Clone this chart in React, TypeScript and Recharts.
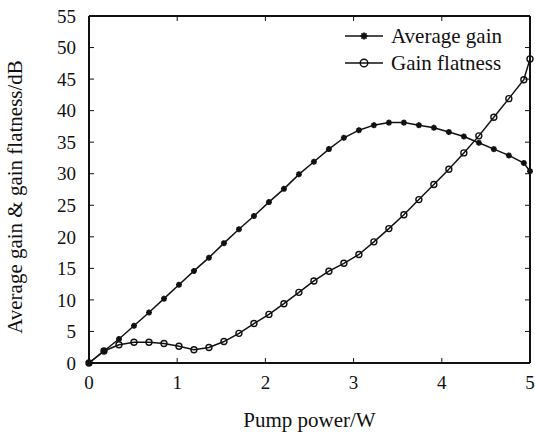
import { ComposedChart, Line, XAxis, YAxis, Legend } from "recharts";

// pump power (W) sampled every 0.17 W, last point at 5 W
const POWER = [0, 0.17, 0.34, 0.51, 0.68, 0.85, 1.02, 1.19, 1.36, 1.53, 1.7, 1.87, 2.04, 2.21, 2.38, 2.55, 2.72, 2.89, 3.06, 3.23, 3.4, 3.57, 3.74, 3.91, 4.08, 4.25, 4.42, 4.59, 4.76, 4.93, 5];
const AVG_GAIN = [0, 1.9, 3.8, 5.9, 8.0, 10.2, 12.4, 14.6, 16.7, 19.0, 21.2, 23.3, 25.5, 27.6, 29.9, 31.9, 33.9, 35.7, 36.9, 37.7, 38.1, 38.1, 37.7, 37.3, 36.6, 35.9, 34.9, 33.9, 32.9, 31.7, 30.4];
const FLATNESS = [0, 1.9, 2.9, 3.3, 3.3, 3.1, 2.65, 2.1, 2.45, 3.4, 4.7, 6.25, 7.7, 9.4, 11.2, 13.0, 14.55, 15.8, 17.2, 19.2, 21.3, 23.5, 25.9, 28.3, 30.7, 33.3, 36.0, 38.95, 41.9, 44.9, 48.2];
const X_TICKS = [0, 1, 2, 3, 4, 5];
const Y_TICKS = [0, 5, 10, 15, 20, 25, 30, 35, 40, 45, 50, 55];

const SERIES = [
  { key: "avg", name: "Average gain", marker: "star" },
  { key: "flat", name: "Gain flatness", marker: "circle" },
];

const FONT = '"Liberation Serif", "Times New Roman", serif';
const INK = "#111";

const data = POWER.map((x, i) => ({ x, avg: AVG_GAIN[i], flat: FLATNESS[i] }));

function Star({ cx, cy, r = 4.5 }: { cx?: number; cy?: number; r?: number }) {
  if (cx == null || cy == null) return null;
  const d = r * 0.7071;
  return (
    <g stroke={INK} strokeWidth={1.8}>
      <line x1={cx - r} y1={cy} x2={cx + r} y2={cy} />
      <line x1={cx} y1={cy - r} x2={cx} y2={cy + r} />
      <line x1={cx - d} y1={cy - d} x2={cx + d} y2={cy + d} />
      <line x1={cx - d} y1={cy + d} x2={cx + d} y2={cy - d} />
      <circle cx={cx} cy={cy} r={2} fill={INK} stroke="none" />
    </g>
  );
}

function Ring({ cx, cy, r = 4.6 }: { cx?: number; cy?: number; r?: number }) {
  if (cx == null || cy == null) return null;
  return <circle cx={cx} cy={cy} r={r} fill="none" stroke={INK} strokeWidth={1.4} />;
}

function LegendBox() {
  return (
    <div style={{ fontFamily: FONT, fontSize: 21, color: INK, lineHeight: "26.5px" }}>
      {SERIES.map((s) => (
        <div key={s.key} style={{ display: "flex", alignItems: "center" }}>
          <svg width={40} height={14} style={{ marginRight: 6 }}>
            <line x1={0} y1={7} x2={38} y2={7} stroke={INK} strokeWidth={1.5} />
            {s.marker === "star" ? <Star cx={19} cy={7} r={3.6} /> : <Ring cx={19} cy={7} r={3.8} />}
          </svg>
          <span>{s.name}</span>
        </div>
      ))}
    </div>
  );
}

const tickStyle = { fontSize: 19, fill: INK, fontFamily: FONT };
const axisLine = { stroke: INK, strokeWidth: 2 };
const tickLine = { stroke: INK, strokeWidth: 1 };

export default function App() {
  return (
    <div style={{ position: "absolute", left: 0, top: 0, width: 535, height: 432 }}>
      <ComposedChart
        width={535}
        height={432}
        data={data}
        margin={{ top: 10, right: 0, left: 0, bottom: 0 }}
      >
        <XAxis
          xAxisId="b"
          dataKey="x"
          type="number"
          domain={[0, 5]}
          ticks={X_TICKS}
          interval={0}
          height={69}
          tickSize={-5}
          tickMargin={18}
          axisLine={axisLine}
          tickLine={tickLine}
          tick={tickStyle}
          label={{
            content: ({ viewBox }: any) => (
              <text
                x={viewBox.x + viewBox.width / 2}
                y={427}
                textAnchor="middle"
                fontFamily={FONT}
                fontSize={21}
                fill={INK}
              >
                Pump power/W
              </text>
            ),
          }}
        />
        <XAxis
          xAxisId="t"
          dataKey="x"
          orientation="top"
          type="number"
          domain={[0, 5]}
          ticks={X_TICKS}
          interval={0}
          height={6}
          tickSize={-5}
          axisLine={axisLine}
          tickLine={tickLine}
          tickFormatter={() => ""}
        />
        <YAxis
          yAxisId="l"
          type="number"
          domain={[0, 55]}
          ticks={Y_TICKS}
          interval={0}
          width={89}
          tickSize={-5}
          tickMargin={18}
          axisLine={axisLine}
          tickLine={tickLine}
          tick={tickStyle}
          label={{
            content: () => (
              <text
                x={22}
                y={197}
                transform="rotate(-90 22 197)"
                textAnchor="middle"
                fontFamily={FONT}
                fontSize={21}
                fill={INK}
              >
                Average gain &amp; gain flatness/dB
              </text>
            ),
          }}
        />
        <YAxis
          yAxisId="r"
          orientation="right"
          type="number"
          domain={[0, 55]}
          ticks={Y_TICKS}
          interval={0}
          width={5}
          tickSize={-5}
          axisLine={axisLine}
          tickLine={tickLine}
          tickFormatter={() => ""}
        />
        <Legend
          layout="horizontal"
          verticalAlign="middle"
          align="center"
          content={<LegendBox />}
          wrapperStyle={{ top: 23, left: 345, width: 190 }}
        />
        <Line
          xAxisId="b"
          yAxisId="l"
          dataKey="avg"
          name="Average gain"
          type="linear"
          stroke={INK}
          strokeWidth={1.5}
          dot={<Star />}
          activeDot={false}
          isAnimationActive={false}
        />
        <Line
          xAxisId="t"
          yAxisId="r"
          dataKey="flat"
          name="Gain flatness"
          type="linear"
          stroke={INK}
          strokeWidth={1.5}
          dot={<Ring />}
          activeDot={false}
          isAnimationActive={false}
        />
      </ComposedChart>
    </div>
  );
}
